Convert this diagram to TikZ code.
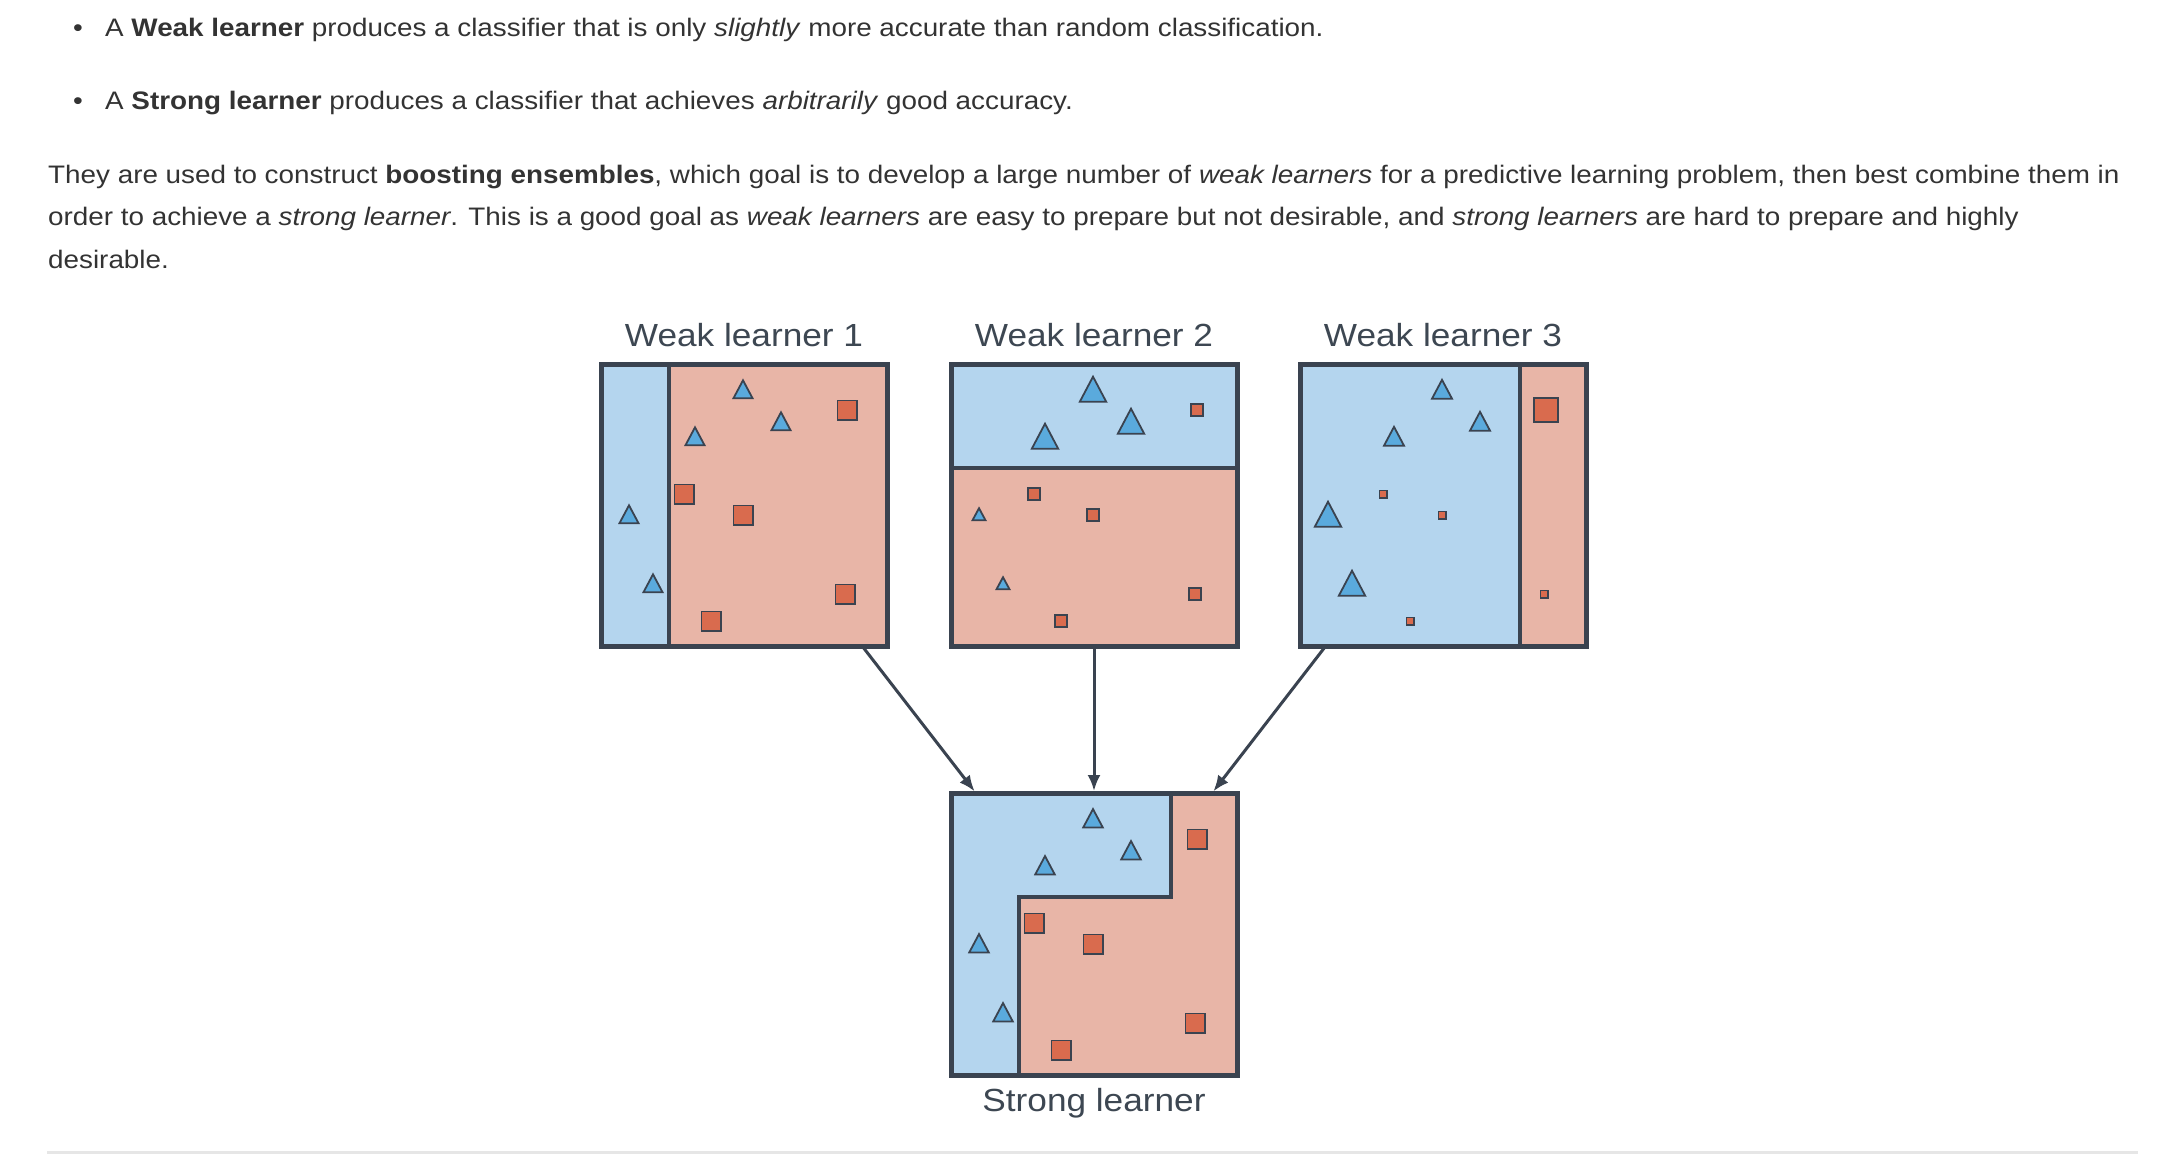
\documentclass[tikz,border=0pt]{standalone}
\usepackage{fontspec}
\setmainfont{Liberation Sans}
\newfontfamily\widesans[FakeStretch=1.1]{Liberation Sans}
\usetikzlibrary{positioning,calc,arrows.meta,backgrounds}

\definecolor{framegray}{HTML}{3A4350}
\definecolor{bodytext}{HTML}{333333}
\definecolor{titletext}{HTML}{3D4752}
\definecolor{regionblue}{HTML}{B4D5EE}
\definecolor{regionred}{HTML}{E8B5A7}
\definecolor{triblue}{HTML}{5AAADD}
\definecolor{sqred}{HTML}{D96B4E}
\definecolor{rulegray}{HTML}{E6E6E6}

% a triangle and a square, given centre and outer width
\newcommand{\ptri}[2]{\draw[tri] #1 ++(0,-0.485*#2+1.5) -- ++(0.5*#2-1,0.97*#2-2.5) -- ++(-#2+2,0) -- cycle;}
\newcommand{\psq}[2]{\draw[sq] #1 +(-0.5*#2+0.9,-0.5*#2+0.9) rectangle +(0.5*#2-0.9,0.5*#2-0.9);}
% the same ten points in every panel, only the sizes change
% #1 upper triangles, #2 lower triangles, #3 top right square, #4 other squares
\newcommand{\learnerpoints}[4]{%
  \ptri{(142,25)}{#1}
  \ptri{(180,57)}{#1}
  \ptri{(94,72)}{#1}
  \ptri{(28,150)}{#2}
  \ptri{(52,219)}{#2}
  \psq{(246,46)}{#3}
  \psq{(83,130)}{#4}
  \psq{(142,151)}{#4}
  \psq{(244,230)}{#4}
  \psq{(110,257)}{#4}
}

\begin{document}
\begin{tikzpicture}[
      x=1pt, y=-1pt,
      body/.style={anchor=base west, inner sep=0, text=bodytext, font=\widesans\fontsize{25.3}{30}\selectfont},
      title/.style={inner sep=0, text=titletext, font=\widesans\fontsize{32}{38}\selectfont},
      panel/.style={draw=framegray, line width=5pt, minimum width=286pt, minimum height=282pt,
                    inner sep=0, outer sep=0, anchor=north west},
      split/.style={draw=framegray, line width=4pt},
      tri/.style={draw=framegray, fill=triblue, line width=1.8pt},
      sq/.style={draw=framegray, fill=sqred, line width=1.8pt},
      flow/.style={draw=framegray, line width=3pt, shorten >=2pt, -{Latex[length=16pt,width=13pt]}}
    ]
    \begin{scope}[on background layer]
      \fill[white] (0,0) rectangle (2184,1154);
    \end{scope}
    \useasboundingbox (0,0) rectangle (2184,1154);

    % text above the picture
    \node[body] (dot1) at (73,36) {\textbullet};
    \node[body] (item1) at (105,36) {A \textbf{Weak learner} produces a classifier that is only \textit{slightly} more accurate than random classification.};
    \node[body] (dot2) at (73,109) {\textbullet};
    \node[body] (item2) at (105,109) {A \textbf{Strong learner} produces a classifier that achieves \textit{arbitrarily} good accuracy.};
    \node[body] (par1) at (48,183) {They are used to construct \textbf{boosting ensembles}, which goal is to develop a large number of \textit{weak learners} for a predictive learning problem, then best combine them in};
    \node[body] (par2) at (48,225) {order to achieve a \textit{strong learner}. This is a good goal as \textit{weak learners} are easy to prepare but not desirable, and \textit{strong learners} are hard to prepare and highly};
    \node[body] (par3) at (48,268) {desirable.};

    % the four panels
    \node[panel] (wl1) at (601,364) {};
    \node[panel] (wl2) at (951,364) {};
    \node[panel] (wl3) at (1300,364) {};
    \node[panel] (strong) at (951,793) {};

    \node[title, above=17pt of wl1] (t1) {Weak learner 1};
    \node[title, above=17pt of wl2] (t2) {Weak learner 2};
    \node[title, above=17pt of wl3] (t3) {Weak learner 3};
    \node[title, below=13pt of strong] (t4) {Strong learner};

    % weak learner 1: vertical split
    \begin{scope}[shift={(wl1.north west)}]
      \begin{scope}[on background layer]
        \fill[regionblue] (0,0) rectangle (68,282);
        \fill[regionred] (68,0) rectangle (286,282);
      \end{scope}
      \draw[split] (68,0) -- (68,282);
      \learnerpoints{21}{21}{21}{21}
    \end{scope}

    % weak learner 2: horizontal split
    \begin{scope}[shift={(wl2.north west)}]
      \begin{scope}[on background layer]
        \fill[regionblue] (0,0) rectangle (286,104);
        \fill[regionred] (0,104) rectangle (286,282);
      \end{scope}
      \draw[split] (0,104) -- (286,104);
      \learnerpoints{28.5}{15}{14}{14}
    \end{scope}

    % weak learner 3: vertical split on the right
    \begin{scope}[shift={(wl3.north west)}]
      \begin{scope}[on background layer]
        \fill[regionblue] (0,0) rectangle (220,282);
        \fill[regionred] (220,0) rectangle (286,282);
      \end{scope}
      \draw[split] (220,0) -- (220,282);
      \learnerpoints{22}{28.5}{26}{9}
    \end{scope}

    % strong learner: the combined boundary
    \begin{scope}[shift={(strong.north west)}]
      \begin{scope}[on background layer]
        \fill[regionred] (0,0) rectangle (286,282);
        \fill[regionblue] (0,0) -- (220,0) -- (220,104) -- (68,104) -- (68,282) -- (0,282) -- cycle;
      \end{scope}
      \draw[split, line join=miter] (68,282) -- (68,104) -- (220,104) -- (220,0);
      \learnerpoints{21.5}{21.5}{21}{21}
    \end{scope}

    % arrows into the strong learner
    \draw[flow] ($(wl1.south west)!0.913!(wl1.south east)$) -- ($(strong.north west)!0.087!(strong.north east)$);
    \draw[flow] (wl2.south) -- (strong.north);
    \draw[flow] ($(wl3.south west)!0.09!(wl3.south east)$) -- ($(strong.north west)!0.913!(strong.north east)$);

    % rule at the bottom
    \fill[rulegray] (47,1151) rectangle (2138,1154);
\end{tikzpicture}
\end{document}
